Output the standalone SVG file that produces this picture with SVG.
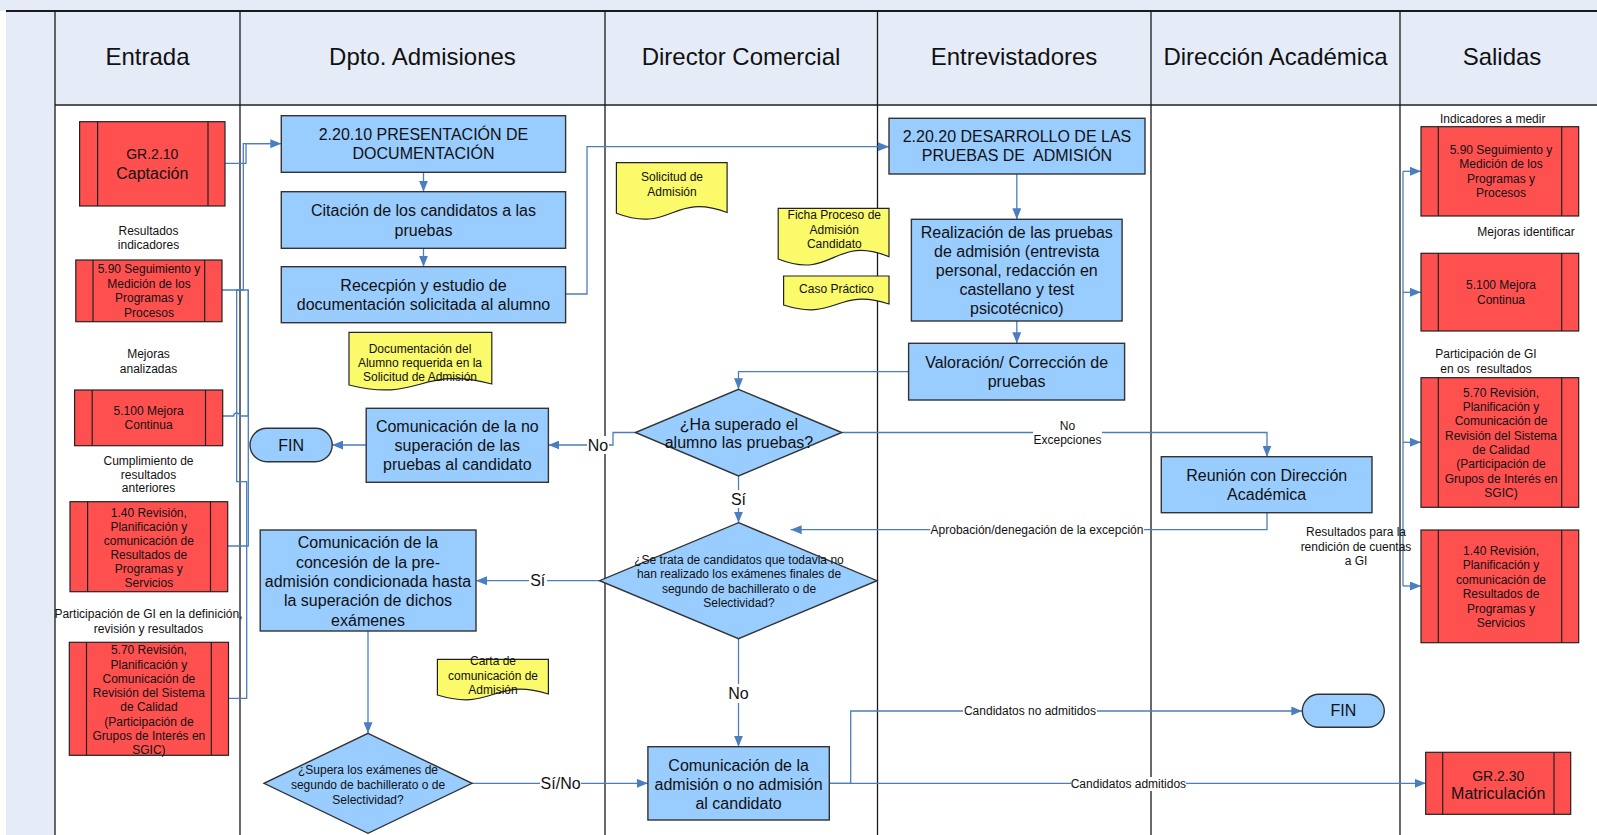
<svg xmlns="http://www.w3.org/2000/svg" width="1597" height="835" viewBox="0 0 1597 835">
<defs>
<style>
.lane{stroke:#1a1a1a;stroke-width:1.3;fill:none}
.box{fill:#99CCFF;stroke:#333;stroke-width:1.4}
.red{fill:#FF5050;stroke:#222;stroke-width:1.2}
.bar{stroke:#222;stroke-width:1.2}
.doc{fill:#FAFA6B;stroke:#222;stroke-width:1.2}
.cn{fill:none;stroke:#4A7EC0;stroke-width:1.3}
.cna{fill:none;stroke:#4A7EC0;stroke-width:1.3;marker-end:url(#ah)}
.lb{fill:#fff}
text{font-family:'Liberation Sans',Arial,sans-serif;text-anchor:middle;fill:#111}
.t24{font-size:24px}
.t16{font-size:16px}
.t14{font-size:14px}
.t12{font-size:12px}
</style>
<marker id="ah" markerWidth="11" markerHeight="9" refX="11" refY="4.5" orient="auto" markerUnits="userSpaceOnUse"><path d="M0,0 L11,4.5 L0,9 z" fill="#4A7EC0"/></marker>
</defs>

<g id="background">
<rect x="0" y="0" width="1597" height="835" fill="#E6ECF7"/>
<rect x="0" y="11" width="6" height="824" fill="#fff"/>
<rect x="55" y="105" width="1542" height="730" fill="#fff"/>
<line class="lane" x1="6" y1="11" x2="1597" y2="11" style="stroke-width:1.8"/>
<line class="lane" x1="55" y1="105" x2="1597" y2="105" style="stroke:#555;stroke-width:1.8"/>
<line class="lane" x1="55" y1="11" x2="55" y2="835"/>
<line class="lane" x1="240" y1="11" x2="240" y2="835"/>
<line class="lane" x1="605" y1="11" x2="605" y2="835"/>
<line class="lane" x1="877.5" y1="11" x2="877.5" y2="835"/>
<line class="lane" x1="1151" y1="11" x2="1151" y2="835"/>
<line class="lane" x1="1400" y1="11" x2="1400" y2="835"/>
</g>

<g id="headers">
<text class="t24" x="147.5" y="65">Entrada</text>
<text class="t24" x="422.5" y="65">Dpto. Admisiones</text>
<text class="t24" x="741" y="65">Director Comercial</text>
<text class="t24" x="1014" y="65">Entrevistadores</text>
<text class="t24" x="1275.5" y="65">Dirección Académica</text>
<text class="t24" x="1502" y="65">Salidas</text>
</g>

<g id="connectors">
<path class="cna" d="M225,163.3 H246 V143.7 H281.3"/>
<path class="cn" d="M222,290 H243.3 V143.7 H270"/>
<path class="cn" d="M222.7,416 H233.7 A3,3 0 0 1 239.7,416 H248.3 V290 H243.3"/>
<path class="cn" d="M227.7,546 H248.3 V290"/>
<path class="cn" d="M228.5,698.3 H246.7 V481.7 H236.7 V290 H243.3"/>
<path class="cna" d="M423.5,172.3 V191.7"/>
<path class="cna" d="M423.5,248.3 V266.7"/>
<path class="cna" d="M565.6,294 H587 V146.7 H889"/>
<path class="cna" d="M366.2,445 H332.2"/>
<path class="cna" d="M368,631 V733.3"/>
<path class="cna" d="M1016.8,174 V219.3"/>
<path class="cna" d="M1016.8,321 V343.3"/>
<path class="cna" d="M908.6,371.7 H738.5 V389.3"/>
<path class="cna" d="M635.4,432.5 H613 V445 H548.4"/>
<path class="cna" d="M738.5,476 V522.7"/>
<path class="cna" d="M841.8,432.5 H1267 V456.7"/>
<path class="cna" d="M1267,512.7 V529.7 H790.7"/>
<path class="cna" d="M599.6,580.7 H476"/>
<path class="cna" d="M738.5,638.7 V746.7"/>
<path class="cna" d="M472,783.3 H647.9"/>
<path class="cna" d="M829.3,783.3 H850.7 V711 H1302.3"/>
<path class="cna" d="M829.3,783.3 H1425.7"/>
<path class="cn" d="M1403,171.3 V586"/>
<path class="cna" d="M1403,171.3 H1421"/>
<path class="cna" d="M1403,292.3 H1421"/>
<path class="cna" d="M1403,442.3 H1421"/>
<path class="cna" d="M1403,586 H1421"/>
<rect class="lb" x="587" y="436" width="22" height="18"/>
<text class="t16" x="598" y="450.6">No</text>
<rect class="lb" x="730" y="490" width="16" height="18"/>
<text class="t16" x="738.5" y="504.6">Sí</text>
<rect class="lb" x="1033" y="418" width="69" height="28"/>
<text class="t12" x="1067.5" y="430.2">No</text>
<text class="t12" x="1067.5" y="444.2">Excepciones</text>
<rect class="lb" x="930" y="523" width="214" height="14"/>
<text class="t12" x="1037" y="534.2">Aprobación/denegación de la excepción</text>
<rect class="lb" x="529" y="572" width="18" height="18"/>
<text class="t16" x="537.7" y="586.3">Sí</text>
<rect class="lb" x="727" y="684" width="23" height="19"/>
<text class="t16" x="738.5" y="698.9">No</text>
<rect class="lb" x="540" y="774" width="41" height="19"/>
<text class="t16" x="560.6" y="788.9">Sí/No</text>
<rect class="lb" x="963" y="704" width="134" height="14"/>
<text class="t12" x="1030" y="715.2">Candidatos no admitidos</text>
<rect class="lb" x="1071" y="777" width="115" height="14"/>
<text class="t12" x="1128.4" y="788.2">Candidatos admitidos</text>
</g>

<g id="in-captacion">
<rect class="red" x="79.6" y="121.7" width="145.4" height="84.3"/>
<line class="bar" x1="97.6" y1="121.7" x2="97.6" y2="206"/>
<line class="bar" x1="208" y1="121.7" x2="208" y2="206"/>
<text class="t14" x="152.3" y="159">GR.2.10</text>
<text class="t16" x="152.3" y="178.6">Captación</text>
</g>
<g id="lbl-resultados-indicadores">
<text class="t12" x="148.5" y="235.2">Resultados</text>
<text class="t12" x="148.5" y="249.2">indicadores</text>
</g>
<g id="in-590">
<rect class="red" x="75.8" y="260" width="146.2" height="61.7"/>
<line class="bar" x1="93" y1="260" x2="93" y2="321.7"/>
<line class="bar" x1="204.7" y1="260" x2="204.7" y2="321.7"/>
<text class="t12" x="149" y="273">5.90 Seguimiento y</text>
<text class="t12" x="149" y="287.5">Medición de los</text>
<text class="t12" x="149" y="302">Programas y</text>
<text class="t12" x="149" y="316.5">Procesos</text>
</g>
<g id="lbl-mejoras-analizadas">
<text class="t12" x="148.5" y="358.2">Mejoras</text>
<text class="t12" x="148.5" y="373.2">analizadas</text>
</g>
<g id="in-5100">
<rect class="red" x="74.6" y="390" width="148.1" height="55.7"/>
<line class="bar" x1="92.2" y1="390" x2="92.2" y2="445.7"/>
<line class="bar" x1="205.5" y1="390" x2="205.5" y2="445.7"/>
<text class="t12" x="148.6" y="415.2">5.100 Mejora</text>
<text class="t12" x="148.6" y="429.2">Continua</text>
</g>
<g id="lbl-cumplimiento">
<text class="t12" x="148.5" y="464.5">Cumplimiento de</text>
<text class="t12" x="148.5" y="478.5">resultados</text>
<text class="t12" x="148.5" y="492.2">anteriores</text>
</g>
<g id="in-140">
<rect class="red" x="70" y="501.7" width="157.7" height="90"/>
<line class="bar" x1="87.6" y1="501.7" x2="87.6" y2="591.7"/>
<line class="bar" x1="210.5" y1="501.7" x2="210.5" y2="591.7"/>
<text class="t12" x="148.8" y="517">1.40 Revisión,</text>
<text class="t12" x="148.8" y="531">Planificación y</text>
<text class="t12" x="148.8" y="545">comunicación de</text>
<text class="t12" x="148.8" y="559">Resultados de</text>
<text class="t12" x="148.8" y="573">Programas y</text>
<text class="t12" x="148.8" y="587">Servicios</text>
</g>
<g id="lbl-participacion-in">
<text class="t12" x="148.5" y="618.2">Participación de GI en la definición,</text>
<text class="t12" x="148.5" y="633.2">revisión y resultados</text>
</g>
<g id="in-570">
<rect class="red" x="69.3" y="642.3" width="159.2" height="113"/>
<line class="bar" x1="86.5" y1="642.3" x2="86.5" y2="755.3"/>
<line class="bar" x1="211.3" y1="642.3" x2="211.3" y2="755.3"/>
<text class="t12" x="148.9" y="654.2">5.70 Revisión,</text>
<text class="t12" x="148.9" y="668.5">Planificación y</text>
<text class="t12" x="148.9" y="682.8">Comunicación de</text>
<text class="t12" x="148.9" y="697.1">Revisión del Sistema</text>
<text class="t12" x="148.9" y="711.4">de Calidad</text>
<text class="t12" x="148.9" y="725.7">(Participación de</text>
<text class="t12" x="148.9" y="740">Grupos de Interés en</text>
<text class="t12" x="148.9" y="754.3">SGIC)</text>
</g>

<g id="p-22010">
<rect class="box" x="281.3" y="115.7" width="284.3" height="56.6"/>
<text class="t16" x="423.5" y="140">2.20.10 PRESENTACIÓN DE</text>
<text class="t16" x="423.5" y="159">DOCUMENTACIÓN</text>
</g>
<g id="p-citacion">
<rect class="box" x="281.3" y="191.7" width="284.3" height="56.6"/>
<text class="t16" x="423.5" y="216.3">Citación de los candidatos a las</text>
<text class="t16" x="423.5" y="235.6">pruebas</text>
</g>
<g id="p-recepcion">
<rect class="box" x="281.3" y="266.7" width="284.3" height="56"/>
<text class="t16" x="423.5" y="291.3">Rececpión y estudio de</text>
<text class="t16" x="423.5" y="310">documentación solicitada al alumno</text>
</g>
<g id="doc-documentacion">
<path class="doc" d="M349,332.3 H491.8 V384 C420.4,365 420.4,403 349,385 Z"/>
<text class="t12" x="420" y="353.2">Documentación del</text>
<text class="t12" x="420" y="367.2">Alumno requerida en la</text>
<text class="t12" x="420" y="381.2">Solicitud de Admisión</text>
</g>
<g id="p-no-superacion">
<rect class="box" x="366.2" y="408.3" width="182.2" height="74"/>
<text class="t16" x="457.3" y="432.3">Comunicación de la no</text>
<text class="t16" x="457.3" y="451">superación de las</text>
<text class="t16" x="457.3" y="469.6">pruebas al candidato</text>
</g>
<g id="fin-1">
<rect class="box" x="250" y="428.3" width="82.2" height="33.4" rx="16.7" ry="16.7"/>
<text class="t16" x="291.1" y="450.6">FIN</text>
</g>
<g id="p-concesion">
<rect class="box" x="260.2" y="530" width="215.8" height="101"/>
<text class="t16" x="368" y="548.3">Comunicación de la</text>
<text class="t16" x="368" y="567.6">concesión de la pre-</text>
<text class="t16" x="368" y="586.9">admisión condicionada hasta</text>
<text class="t16" x="368" y="606.2">la superación de dichos</text>
<text class="t16" x="368" y="625.5">exámenes</text>
</g>
<g id="doc-carta">
<path class="doc" d="M437.4,659.3 H548.4 V694 C492.9,677 492.9,712 437.4,695 Z"/>
<text class="t12" x="493" y="664.9">Carta de</text>
<text class="t12" x="493" y="679.5">comunicación de</text>
<text class="t12" x="493" y="693.5">Admisión</text>
</g>
<g id="d-supera">
<path class="box" d="M368,733.3 L472,783.3 L368,833.3 L264,783.3 Z"/>
<text class="t12" x="368" y="774.2">¿Supera los exámenes de</text>
<text class="t12" x="368" y="789.2">segundo de bachillerato o de</text>
<text class="t12" x="368" y="803.5">Selectividad?</text>
</g>

<g id="doc-solicitud">
<path class="doc" d="M616.4,162.7 H727.1 V212.5 C671.7,192 671.7,234 616.4,213.3 Z"/>
<text class="t12" x="672" y="180.9">Solicitud de</text>
<text class="t12" x="672" y="195.9">Admisión</text>
</g>
<g id="d-superado">
<path class="box" d="M738.5,389.3 L841.8,432.5 L738.5,476 L635.4,432.5 Z"/>
<text class="t16" x="739" y="429.6">¿Ha superado el</text>
<text class="t16" x="739" y="447.9">alumno las pruebas?</text>
</g>
<g id="d-candidatos">
<path class="box" d="M738.5,522.7 L877,580.7 L738.5,638.7 L599.6,580.7 Z"/>
<text class="t12" x="739" y="564.2">¿Se trata de candidatos que todavia no</text>
<text class="t12" x="739" y="578.2">han realizado los exámenes finales de</text>
<text class="t12" x="739" y="593.2">segundo de bachillerato o de</text>
<text class="t12" x="739" y="606.9">Selectividad?</text>
</g>
<g id="p-admision">
<rect class="box" x="647.9" y="746.7" width="181.4" height="73.3"/>
<text class="t16" x="738.6" y="771.3">Comunicación de la</text>
<text class="t16" x="738.6" y="789.9">admisión o no admisión</text>
<text class="t16" x="738.6" y="808.9">al candidato</text>
</g>
<g id="doc-ficha">
<path class="doc" d="M778.2,208.3 H889 V256.7 C833.6,234 833.6,281 778.2,259 Z"/>
<text class="t12" x="834.3" y="219.2">Ficha Proceso de</text>
<text class="t12" x="834.3" y="234.2">Admisión</text>
<text class="t12" x="834.3" y="248.2">Candidato</text>
</g>
<g id="doc-caso">
<path class="doc" d="M783.6,276 H889 V304 C836.3,287 836.3,322 783.6,305 Z"/>
<text class="t12" x="836.4" y="293.2">Caso Práctico</text>
</g>

<g id="p-22020">
<rect class="box" x="889" y="118.3" width="256" height="55.7"/>
<text class="t16" x="1017" y="141.6">2.20.20 DESARROLLO DE LAS</text>
<text class="t16" x="1017" y="160.6">PRUEBAS DE&#160; ADMISIÓN</text>
</g>
<g id="p-realizacion">
<rect class="box" x="911.4" y="219.3" width="210.7" height="101.7"/>
<text class="t16" x="1016.8" y="238.3">Realización de las pruebas</text>
<text class="t16" x="1016.8" y="257.3">de admisión (entrevista</text>
<text class="t16" x="1016.8" y="276.3">personal, redacción en</text>
<text class="t16" x="1016.8" y="295.3">castellano y test</text>
<text class="t16" x="1016.8" y="314.3">psicotécnico)</text>
</g>
<g id="p-valoracion">
<rect class="box" x="908.6" y="343.3" width="216" height="56.7"/>
<text class="t16" x="1016.6" y="368.3">Valoración/ Corrección de</text>
<text class="t16" x="1016.6" y="387.3">pruebas</text>
</g>

<g id="p-reunion">
<rect class="box" x="1161.3" y="456.7" width="210.7" height="56"/>
<text class="t16" x="1266.7" y="481.3">Reunión con Dirección</text>
<text class="t16" x="1266.7" y="499.9">Académica</text>
</g>
<g id="fin-2">
<rect class="box" x="1302.3" y="694.3" width="82" height="33" rx="16.5" ry="16.5"/>
<text class="t16" x="1343.3" y="716.4">FIN</text>
</g>
<g id="lbl-rendicion">
<text class="t12" x="1356" y="536.2">Resultados para la</text>
<text class="t12" x="1356" y="551.2">rendición de cuentas</text>
<text class="t12" x="1356" y="564.9">a GI</text>
</g>

<g id="lbl-indicadores">
<text class="t12" x="1492.7" y="123.2">Indicadores a medir</text>
</g>
<g id="out-590">
<rect class="red" x="1421" y="126.7" width="157.7" height="89.3"/>
<line class="bar" x1="1438.3" y1="126.7" x2="1438.3" y2="216"/>
<line class="bar" x1="1561.7" y1="126.7" x2="1561.7" y2="216"/>
<text class="t12" x="1501" y="154.2">5.90 Seguimiento y</text>
<text class="t12" x="1501" y="168.2">Medición de los</text>
<text class="t12" x="1501" y="183.2">Programas y</text>
<text class="t12" x="1501" y="197.2">Procesos</text>
</g>
<g id="lbl-mejoras-identificar">
<text class="t12" x="1526" y="235.9">Mejoras identificar</text>
</g>
<g id="out-5100">
<rect class="red" x="1421" y="253.3" width="157.7" height="77.7"/>
<line class="bar" x1="1438.3" y1="253.3" x2="1438.3" y2="331"/>
<line class="bar" x1="1561.7" y1="253.3" x2="1561.7" y2="331"/>
<text class="t12" x="1501" y="289.2">5.100 Mejora</text>
<text class="t12" x="1501" y="303.9">Continua</text>
</g>
<g id="lbl-participacion-out">
<text class="t12" x="1486" y="358.2">Participación de GI</text>
<text class="t12" x="1486" y="372.5">en os&#160; resultados</text>
</g>
<g id="out-570">
<rect class="red" x="1421" y="377.7" width="157.7" height="129.6"/>
<line class="bar" x1="1438.3" y1="377.7" x2="1438.3" y2="507.3"/>
<line class="bar" x1="1561.7" y1="377.7" x2="1561.7" y2="507.3"/>
<text class="t12" x="1501" y="396.9">5.70 Revisión,</text>
<text class="t12" x="1501" y="410.9">Planificación y</text>
<text class="t12" x="1501" y="424.9">Comunicación de</text>
<text class="t12" x="1501" y="439.9">Revisión del Sistema</text>
<text class="t12" x="1501" y="454.2">de Calidad</text>
<text class="t12" x="1501" y="468.2">(Participación de</text>
<text class="t12" x="1501" y="483.2">Grupos de Interés en</text>
<text class="t12" x="1501" y="497.2">SGIC)</text>
</g>
<g id="out-140">
<rect class="red" x="1421" y="530" width="157.7" height="112.7"/>
<line class="bar" x1="1438.3" y1="530" x2="1438.3" y2="642.7"/>
<line class="bar" x1="1561.7" y1="530" x2="1561.7" y2="642.7"/>
<text class="t12" x="1501" y="554.9">1.40 Revisión,</text>
<text class="t12" x="1501" y="569.2">Planificación y</text>
<text class="t12" x="1501" y="584.2">comunicación de</text>
<text class="t12" x="1501" y="598.2">Resultados de</text>
<text class="t12" x="1501" y="613.2">Programas y</text>
<text class="t12" x="1501" y="627.2">Servicios</text>
</g>
<g id="out-gr230">
<rect class="red" x="1425.7" y="752.3" width="145" height="62"/>
<line class="bar" x1="1442.7" y1="752.3" x2="1442.7" y2="814.3"/>
<line class="bar" x1="1554" y1="752.3" x2="1554" y2="814.3"/>
<text class="t14" x="1498.2" y="780.6">GR.2.30</text>
<text class="t16" x="1498.2" y="798.9">Matriculación</text>
</g>
</svg>
